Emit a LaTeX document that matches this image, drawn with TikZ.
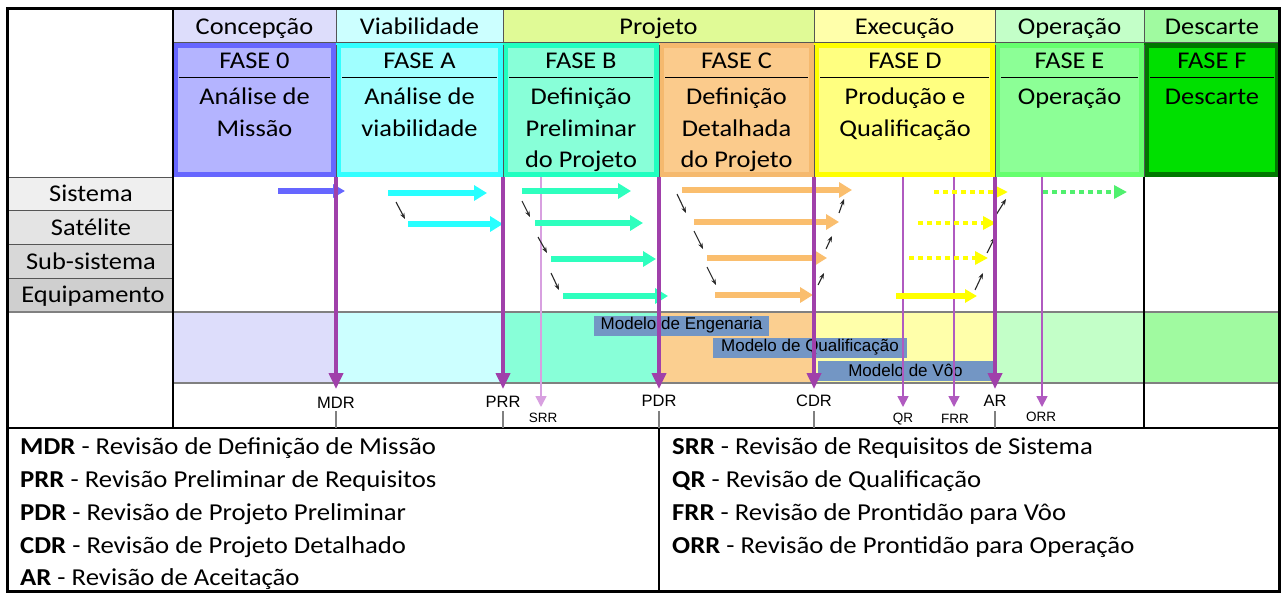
\documentclass[tikz,border=0pt]{standalone}
\usepackage{fontspec}
\usetikzlibrary{arrows.meta}
\newfontfamily\calf[FakeStretch=1.1]{Carlito}
\newfontfamily\arif{Liberation Sans}
% header fills
\definecolor{hC}{RGB}{221,221,251}
\definecolor{hV}{RGB}{204,255,255}
\definecolor{hP}{RGB}{224,250,150}
\definecolor{hE}{RGB}{255,255,170}
\definecolor{hO}{RGB}{195,255,200}
\definecolor{hD}{RGB}{160,250,160}
% phase fills / borders
\definecolor{f0}{RGB}{180,180,255}\definecolor{b0}{RGB}{102,102,255}
\definecolor{fA}{RGB}{160,255,255}\definecolor{bA}{RGB}{51,255,255}
\definecolor{fB}{RGB}{136,255,216}\definecolor{bB}{RGB}{32,255,192}
\definecolor{fC}{RGB}{251,203,140}\definecolor{bC}{RGB}{245,185,110}
\definecolor{fD}{RGB}{255,255,128}\definecolor{bD}{RGB}{255,255,0}
\definecolor{fE}{RGB}{140,255,150}\definecolor{bE}{RGB}{102,255,110}
\definecolor{fF}{RGB}{0,224,0}\definecolor{bF}{RGB}{0,120,0}
% model row
\definecolor{mC}{RGB}{251,207,144}
% level labels
\definecolor{g1}{RGB}{239,239,239}
\definecolor{g2}{RGB}{228,228,228}
\definecolor{g3}{RGB}{216,216,216}
\definecolor{g4}{RGB}{207,207,207}
% arrows
\definecolor{aBlue}{RGB}{102,102,255}
\definecolor{aCyan}{RGB}{40,255,255}
\definecolor{aAqua}{RGB}{46,255,190}
\definecolor{aOrange}{RGB}{250,190,110}
\definecolor{aYellow}{RGB}{255,255,0}
\definecolor{aGreen}{RGB}{80,240,110}
\definecolor{purp}{RGB}{160,64,170}
\definecolor{purpt}{RGB}{176,90,192}
\definecolor{purpl}{RGB}{216,160,224}
\definecolor{modelc}{RGB}{115,150,196}
\definecolor{gridc}{RGB}{85,85,85}
\definecolor{gridl}{RGB}{128,128,128}
\definecolor{hintc}{RGB}{40,40,40}
\begin{document}
\begin{tikzpicture}[x=1pt,y=-1pt,
 txt/.style={font=\calf\fontsize{24}{28}\selectfont, inner sep=0pt, anchor=base},
 leg/.style={font=\calf\fontsize{24.3}{28}\selectfont, inner sep=0pt, anchor=base west},
 biglbl/.style={font=\arif\fontsize{16.5}{18}\selectfont, inner sep=0pt, anchor=base},
 smalllbl/.style={font=\arif\fontsize{13.5}{15}\selectfont, inner sep=0pt, anchor=base},
 modelbox/.style={fill=modelc, font=\arif\fontsize{17}{18}\selectfont, inner sep=0pt, minimum height=20pt},
 lvl/.style={line width=5.5pt, -{Triangle[length=13pt,width=15pt]}},
 dotted lvl/.style={line width=4.5pt, dash pattern=on 4.5pt off 4.5pt, -{Triangle[length=13pt,width=13pt]}},
 hint/.style={draw=hintc, line width=1.1pt, -{Stealth[length=6pt,width=4.5pt]}},
 rev/.style={draw=purp, line width=3.8pt, -{Triangle[length=16pt,width=14pt]}},
 revthin/.style={draw=purpt, line width=1.6pt, -{Triangle[length=11pt,width=11pt]}},
 gridline/.style={draw=gridc, line width=1pt},
 phase/.style={line width=5pt},
 sepline/.style={draw=black, line width=1pt}
]
\useasboundingbox (0,0) rectangle (1282,594);
\fill[white] (0,0) rectangle (1282,594);

% ---- header stage cells
\fill[hC] (173,9) rectangle (336,43);
\fill[hV] (336,9) rectangle (503,43);
\fill[hP] (503,9) rectangle (814,43);
\fill[hE] (814,9) rectangle (995,43);
\fill[hO] (995,9) rectangle (1144,43);
\fill[hD] (1144,9) rectangle (1280,43);

% ---- phase boxes
\draw[phase, draw=b0, fill=f0] (175.5,45.5) rectangle (333.5,174.5);
\draw[phase, draw=bA, fill=fA] (338.5,45.5) rectangle (500.5,174.5);
\draw[phase, draw=bB, fill=fB] (505.5,45.5) rectangle (656.5,174.5);
\draw[phase, draw=bC, fill=fC] (661.5,45.5) rectangle (811.5,174.5);
\draw[phase, draw=bD, fill=fD] (816.5,45.5) rectangle (992.5,174.5);
\draw[phase, draw=bE, fill=fE] (997.5,45.5) rectangle (1141.5,174.5);
\draw[phase, draw=bF, fill=fF] (1146.5,45.5) rectangle (1277.5,174.5);
% separator lines inside phase boxes
\draw[sepline] (179,77) -- (330,77);
\draw[sepline] (342,77) -- (497,77);
\draw[sepline] (509,77) -- (653,77);
\draw[sepline] (665,77) -- (808,77);
\draw[sepline] (820,77) -- (989,77);
\draw[sepline] (1001,77) -- (1138,77);
\draw[sepline] (1150,77) -- (1274,77);

% ---- level label cells
\fill[g1] (8,177) rectangle (173,210);
\fill[g2] (8,210) rectangle (173,244);
\fill[g3] (8,244) rectangle (173,278);
\fill[g4] (8,278) rectangle (173,312);

% ---- model row fills
\fill[hC] (173,312) rectangle (336,383);
\fill[hV] (336,312) rectangle (503,383);
\fill[fB] (503,312) rectangle (659,383);
\fill[mC] (659,312) rectangle (814,383);
\fill[hE] (814,312) rectangle (995,383);
\fill[hO] (995,312) rectangle (1144,383);
\fill[hD] (1144,312) rectangle (1280,383);

% ---- grid lines
\draw[gridline] (336,9) -- (336,43);
\draw[gridline] (503,9) -- (503,43);
\draw[gridline] (814,9) -- (814,43);
\draw[gridline] (995,9) -- (995,43);
\draw[gridline] (1144,9) -- (1144,43);
\draw[gridline] (173,43) -- (1280,43);
\foreach \xx in {336,503,659,814,995,1144}
  \draw[draw=gridc, line width=0.8pt] (\xx,45) -- (\xx,177);
\draw[gridline] (8,177) -- (173,177);
\draw[gridline] (8,210) -- (173,210);
\draw[gridline] (8,244) -- (173,244);
\draw[gridline] (8,278) -- (173,278);
\draw[draw=gridl, line width=1.5pt] (8,312) -- (1280,312);
\draw[draw=gridl, line width=1.5pt] (173,383) -- (1280,383);
\draw[draw=black, line width=1.5pt] (8,428) -- (1280,428);
\draw[draw=black, line width=1.2pt] (173,9) -- (173,428);
\draw[draw=black, line width=1.2pt] (1144,177) -- (1144,428);
\draw[draw=black, line width=1.2pt] (659,428) -- (659,592);
\foreach \xx in {336,503,659,814,995}
  \draw[draw=gridl, line width=1.2pt] (\xx,411) -- (\xx,428);

% ---- model boxes
\node[modelbox, minimum width=175pt] (mEng) at (681.5,325.5) {Modelo de Engenaria};
\node[modelbox, minimum width=194pt] (mQual) at (810,347.5) {Modelo de Qualificação};
\node[modelbox, minimum width=175pt] (mVoo) at (905.5,370.5) {Modelo de Vôo};

% ---- thin review arrows (below level arrows)
\coordinate (srrT) at (541,177); \coordinate (srrB) at (541,407);
\coordinate (qrT) at (903,177); \coordinate (qrB) at (903,407);
\coordinate (frrT) at (954,177); \coordinate (frrB) at (954,407);
\coordinate (orrT) at (1042,177); \coordinate (orrB) at (1042,407);
\draw[revthin, draw=purpl] (srrT) -- (srrB);
\draw[revthin] (qrT) -- (qrB);
\draw[revthin] (frrT) -- (frrB);
\draw[revthin] (orrT) -- (orrB);

% ---- level arrows
\coordinate (bl1s) at (278,191); \coordinate (bl1e) at (345,191);
\draw[lvl, draw=aBlue, -{Triangle[length=12pt,width=13pt]}] (bl1s) -- (bl1e);
\coordinate (cy1s) at (388,193); \coordinate (cy1e) at (487,193);
\coordinate (cy2s) at (408,224); \coordinate (cy2e) at (503,224);
\draw[lvl, draw=aCyan] (cy1s) -- (cy1e);
\draw[lvl, draw=aCyan] (cy2s) -- (cy2e);
\coordinate (aq1s) at (522,191); \coordinate (aq1e) at (631,191);
\coordinate (aq2s) at (535,223); \coordinate (aq2e) at (643,223);
\coordinate (aq3s) at (551,259); \coordinate (aq3e) at (656,259);
\coordinate (aq4s) at (563,296); \coordinate (aq4e) at (668,296);
\draw[lvl, draw=aAqua] (aq1s) -- (aq1e);
\draw[lvl, draw=aAqua] (aq2s) -- (aq2e);
\draw[lvl, draw=aAqua] (aq3s) -- (aq3e);
\draw[lvl, draw=aAqua] (aq4s) -- (aq4e);
\coordinate (or1s) at (682,190); \coordinate (or1e) at (852,190);
\coordinate (or2s) at (694,222); \coordinate (or2e) at (839,222);
\coordinate (or3s) at (707,258); \coordinate (or3e) at (827,258);
\coordinate (or4s) at (715,295); \coordinate (or4e) at (813,295);
\draw[lvl, draw=aOrange] (or1s) -- (or1e);
\draw[lvl, draw=aOrange] (or2s) -- (or2e);
\draw[lvl, draw=aOrange] (or3s) -- (or3e);
\draw[lvl, draw=aOrange] (or4s) -- (or4e);
\coordinate (ye4s) at (896,296); \coordinate (ye4e) at (977,296);
\coordinate (ye3s) at (909,258); \coordinate (ye3e) at (988,258);
\coordinate (ye2s) at (918,223); \coordinate (ye2e) at (996,223);
\coordinate (ye1s) at (934,192); \coordinate (ye1e) at (1008,192);
\draw[lvl, draw=aYellow, -{Triangle[length=12pt,width=13pt]}] (ye4s) -- (ye4e);
\draw[dotted lvl, draw=aYellow] (ye3s) -- (ye3e);
\draw[dotted lvl, draw=aYellow] (ye2s) -- (ye2e);
\draw[dotted lvl, draw=aYellow, -{Triangle[length=12pt,width=11pt]}] (ye1s) -- (ye1e);
\coordinate (gr1s) at (1043,192); \coordinate (gr1e) at (1127,192);
\draw[dotted lvl, draw=aGreen] (gr1s) -- (gr1e);

% ---- small hint arrows
\coordinate (h1s) at (396,202); \coordinate (h1e) at (405,219);
\coordinate (h2s) at (522,201); \coordinate (h2e) at (530,217);
\coordinate (h3s) at (538,237); \coordinate (h3e) at (547,253);
\coordinate (h4s) at (551,273); \coordinate (h4e) at (559,290);
\coordinate (h5s) at (677,194); \coordinate (h5e) at (686,213);
\coordinate (h6s) at (694,231); \coordinate (h6e) at (703,249);
\coordinate (h7s) at (707,267); \coordinate (h7e) at (716,285);
\coordinate (h8s) at (818,285); \coordinate (h8e) at (824,273);
\coordinate (h9s) at (826,249); \coordinate (h9e) at (832,236);
\coordinate (h10s) at (839,213); \coordinate (h10e) at (844,199);
\coordinate (h11s) at (975,290); \coordinate (h11e) at (983,273);
\coordinate (h12s) at (987,253); \coordinate (h12e) at (995,237);
\coordinate (h13s) at (996,215); \coordinate (h13e) at (1006,199);
\foreach \i in {1,...,13} \draw[hint] (h\i s) -- (h\i e);

% ---- thick review arrows
\coordinate (mdrT) at (336,177); \coordinate (mdrB) at (336,389);
\coordinate (prrT) at (503,177); \coordinate (prrB) at (503,389);
\coordinate (pdrT) at (659,177); \coordinate (pdrB) at (659,389);
\coordinate (cdrT) at (814,177); \coordinate (cdrB) at (814,389);
\coordinate (arT) at (995,177); \coordinate (arB) at (995,389);
\draw[rev] (mdrT) -- (mdrB);
\draw[rev] (prrT) -- (prrB);
\draw[rev] (pdrT) -- (pdrB);
\draw[rev] (cdrT) -- (cdrB);
\draw[rev] (arT) -- (arB);

% ---- review labels
\node[biglbl] (lMDR) at (336,408) {MDR};
\node[biglbl] (lPRR) at (503,407) {PRR};
\node[biglbl] (lPDR) at (659,406) {PDR};
\node[biglbl] (lCDR) at (814,406) {CDR};
\node[biglbl] (lAR) at (995,406) {AR};
\node[smalllbl] (lSRR) at (543,422) {SRR};
\node[smalllbl] (lQR) at (903,422) {QR};
\node[smalllbl] (lFRR) at (955,423) {FRR};
\node[smalllbl] (lORR) at (1041,421) {ORR};

% ---- header texts
\node[txt] (sC) at (254.5,35) {Concepção};
\node[txt] (sV) at (419.5,35) {Viabilidade};
\node[txt] (sP) at (658.5,35) {Projeto};
\node[txt] (sE) at (904.5,35) {Execução};
\node[txt] (sO) at (1069.5,35) {Operação};
\node[txt] (sD) at (1212,35) {Descarte};

% ---- phase texts
\node[txt] (p0t) at (254.5,68) {FASE 0};
\node[txt] (p0a) at (254.5,104) {Análise de};
\node[txt] (p0b) at (254.5,136) {Missão};
\node[txt] (pAt) at (419.5,68) {FASE A};
\node[txt] (pAa) at (419.5,104) {Análise de};
\node[txt] (pAb) at (419.5,136) {viabilidade};
\node[txt] (pBt) at (581,68) {FASE B};
\node[txt] (pBa) at (581,104) {Definição};
\node[txt] (pBb) at (581,136) {Preliminar};
\node[txt] (pBc) at (581,167) {do Projeto};
\node[txt] (pCt) at (736.5,68) {FASE C};
\node[txt] (pCa) at (736.5,104) {Definição};
\node[txt] (pCb) at (736.5,136) {Detalhada};
\node[txt] (pCc) at (736.5,167) {do Projeto};
\node[txt] (pDt) at (905,68) {FASE D};
\node[txt] (pDa) at (905,104) {Produção e};
\node[txt] (pDb) at (905,136) {Qualificação};
\node[txt] (pEt) at (1069.5,68) {FASE E};
\node[txt] (pEa) at (1069.5,104) {Operação};
\node[txt] (pFt) at (1212,68) {FASE F};
\node[txt] (pFa) at (1212,104) {Descarte};

% ---- level labels
\node[txt] (lvSis) at (91,201) {Sistema};
\node[txt] (lvSat) at (91,235) {Satélite};
\node[txt] (lvSub) at (91,269) {Sub-sistema};
\node[txt] (lvEqu) at (93,302) {Equipamento};

% ---- legend
\node[leg] (g1) at (20,454) {\textbf{MDR} - Revisão de Definição de Missão};
\node[leg] (g2) at (20,487) {\textbf{PRR} - Revisão Preliminar de Requisitos};
\node[leg] (g3) at (20,520) {\textbf{PDR} - Revisão de Projeto Preliminar};
\node[leg] (g4) at (20,553) {\textbf{CDR} - Revisão de Projeto Detalhado};
\node[leg] (g5) at (20,585) {\textbf{AR} - Revisão de Aceitação};
\node[leg] (g6) at (672,454) {\textbf{SRR} - Revisão de Requisitos de Sistema};
\node[leg] (g7) at (672,487) {\textbf{QR} - Revisão de Qualificação};
\node[leg] (g8) at (672,520) {\textbf{FRR} - Revisão de Prontidão para Vôo};
\node[leg] (g9) at (672,553) {\textbf{ORR} - Revisão de Prontidão para Operação};

% ---- outer border
\draw[black, line width=3.5pt] (7.5,8.5) rectangle (1279.5,591.5);
\end{tikzpicture}
\end{document}
